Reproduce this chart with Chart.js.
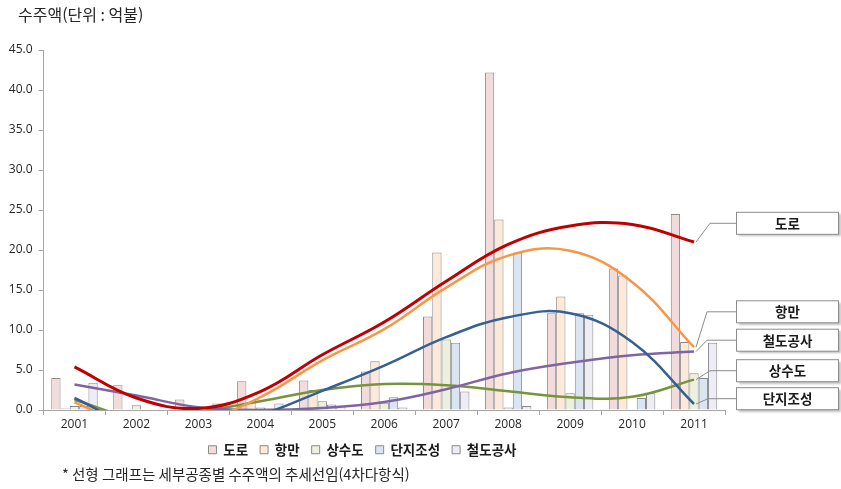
<!DOCTYPE html>
<html lang="ko">
<head>
<meta charset="UTF-8">
<title>공종별 수주액</title>
<script src="https://cdn.jsdelivr.net/npm/chart.js@4.4.1/dist/chart.umd.min.js"></script>
<style>
    html, body { margin: 0; padding: 0; background: #ffffff; }
    #wrap { width: 841px; height: 489px; position: relative; }
</style>
</head>
<body>
<div id="wrap"><canvas id="orderChart"></canvas></div>
<script>
// 연도 (카테고리)
const years = ["2001", "2002", "2003", "2004", "2005", "2006", "2007", "2008", "2009", "2010", "2011"];

// 공종별 수주액 (억불)
const roadValues  = [4.0, 3.1, 1.3, 3.6, 3.7, 4.8, 11.7, 42.2, 12.1, 17.7, 24.5];
const portValues  = [0.2, 0.1, 0.3, 1.0, 2.5, 6.1, 19.7, 23.8, 14.2, 16.8, 8.5];
const waterValues = [0.5, 0.6, 0.1, 0.3, 1.1, 0.9, 8.8, 0.3, 2.1, 0.1, 4.6];
const siteValues  = [0.5, 0.0, 0.0, 0.2, 0.7, 1.6, 8.4, 19.7, 12.1, 1.5, 4.0];
const railValues  = [3.4, 0.1, 0.8, 0.8, 0.5, 0.3, 2.3, 0.5, 11.9, 2.1, 8.4];

// 추세선 (4차다항식) - 그림에서 읽은 값, 0 아래는 잘려서 안 보임
const roadTrend  = [5.4, 1.5, 0.2, 2.3, 6.9, 11.0, 16.1, 20.7, 23.0, 23.2, 21.0];
const portTrend  = [0.95, -2.0, -1.4, 1.6, 6.2, 10.1, 15.3, 19.3, 19.9, 16.0, 7.85];
const waterTrend = [1.25, -0.9, -0.2, 1.1, 2.5, 3.25, 3.1, 2.35, 1.6, 1.65, 3.8];
const siteTrend  = [1.5, -2.0, -2.2, -0.6, 2.4, 5.55, 9.1, 11.6, 12.1, 8.5, 0.75];
const railTrend  = [3.2, 1.8, 0.35, 0.0, 0.25, 1.0, 2.6, 4.6, 5.9, 6.85, 7.3];

const seriesNames = ["도로", "항만", "상수도", "단지조성", "철도공사"];

const korFont = "'Noto Sans CJK KR', sans-serif";
const numFont = "'Open Sans', 'Noto Sans CJK KR', sans-serif";
const axisGray = "#a6a6a6";
const barBorder = "#8a8a8a";

// 오른쪽 라벨 상자 위치
const calloutLayout = [
    { label: "도로",     trend: roadTrend,  boxY: 223.3, elbowX: 710 },
    { label: "항만",     trend: portTrend,  boxY: 311.8, elbowX: 707 },
    { label: "철도공사", trend: railTrend,  boxY: 340.2, elbowX: 707 },
    { label: "상수도",   trend: waterTrend, boxY: 370.7, elbowX: 710 },
    { label: "단지조성", trend: siteTrend,  boxY: 398.7, elbowX: 708 }
];

function barSet(label, data, fill) {
    return {
        type: "bar",
        label: label,
        data: data,
        backgroundColor: fill,
        borderColor: barBorder,
        borderWidth: 1,
        categoryPercentage: 0.75,
        barPercentage: 1.0,
        order: 10
    };
}

function trendSet(label, data, color, width, order) {
    return {
        type: "line",
        label: label,
        data: data,
        borderColor: color,
        borderWidth: width,
        pointRadius: 0,
        tension: 0.4,
        fill: false,
        order: order
    };
}

// 제목, 주석, 라벨 상자 그리기
const decorPlugin = {
    id: "decor",
    afterDraw(chart) {
        const ctx = chart.ctx;
        const xScale = chart.scales.x;
        const yScale = chart.scales.y;
        const lastX = xScale.getPixelForValue(years.length - 1);

        ctx.save();
        ctx.fillStyle = "#262626";
        ctx.textBaseline = "middle";
        ctx.textAlign = "left";
        ctx.font = "16px " + korFont;
        ctx.fillText("수주액(단위 : 억불)", 18, 15);
        ctx.font = "14.5px " + korFont;
        ctx.fillText("* 선형 그래프는 세부공종별 수주액의 추세선임(4차다항식)", 62, 474);

        calloutLayout.forEach(item => {
            const endY = yScale.getPixelForValue(item.trend[item.trend.length - 1]);
            ctx.strokeStyle = "#8c8c8c";
            ctx.lineWidth = 1;
            ctx.beginPath();
            ctx.moveTo(lastX + 2, endY);
            ctx.lineTo(item.elbowX, item.boxY);
            ctx.lineTo(736.5, item.boxY);
            ctx.stroke();

            ctx.save();
            ctx.shadowColor = "rgba(0,0,0,0.25)";
            ctx.shadowOffsetX = 2;
            ctx.shadowOffsetY = 2;
            ctx.shadowBlur = 2;
            ctx.fillStyle = "#ffffff";
            ctx.fillRect(736.5, item.boxY - 11, 102, 22);
            ctx.restore();
            ctx.strokeStyle = "#8c8c8c";
            ctx.strokeRect(736.5, item.boxY - 11, 102, 22);

            ctx.fillStyle = "#1a1a1a";
            ctx.font = "bold 13.5px " + korFont;
            ctx.textAlign = "center";
            ctx.fillText(item.label, 736.5 + 51, item.boxY + 0.5);
            ctx.textAlign = "left";
        });
        ctx.restore();
    }
};

document.addEventListener("DOMContentLoaded", function () {
    const ctx = document.getElementById("orderChart").getContext("2d");

    new Chart(ctx, {
        data: {
            labels: years,
            datasets: [
                barSet(seriesNames[0], roadValues, "#f2dcdb"),
                barSet(seriesNames[1], portValues, "#fde9d9"),
                barSet(seriesNames[2], waterValues, "#ebf1de"),
                barSet(seriesNames[3], siteValues, "#dbe5f1"),
                barSet(seriesNames[4], railValues, "#eeecf4"),
                trendSet(seriesNames[0] + " 추세", roadTrend, "#c00000", 3, 1),
                trendSet(seriesNames[1] + " 추세", portTrend, "#f79646", 2.5, 2),
                trendSet(seriesNames[3] + " 추세", siteTrend, "#376092", 2.5, 3),
                trendSet(seriesNames[4] + " 추세", railTrend, "#8064a2", 2.5, 4),
                trendSet(seriesNames[2] + " 추세", waterTrend, "#77933c", 2.5, 5)
            ]
        },
        options: {
            responsive: true,
            maintainAspectRatio: false,
            animation: false,
            devicePixelRatio: 1,
            layout: {
                padding: { top: 50, right: 116, bottom: 22.5, left: 0 }
            },
            scales: {
                x: {
                    afterFit(scale) { scale.height = 21; },
                    grid: {
                        offset: true,
                        drawOnChartArea: false,
                        drawTicks: true,
                        tickLength: 5,
                        color: axisGray
                    },
                    border: { color: axisGray, width: 1 },
                    ticks: {
                        padding: 2,
                        color: "#262626",
                        font: { family: numFont, size: 12 }
                    }
                },
                y: {
                    min: 0,
                    max: 45,
                    afterFit(scale) { scale.width = 43.5; },
                    grid: {
                        drawOnChartArea: false,
                        drawTicks: true,
                        tickLength: 5,
                        color: axisGray
                    },
                    border: { color: axisGray, width: 1 },
                    ticks: {
                        stepSize: 5,
                        padding: 6,
                        color: "#262626",
                        font: { family: numFont, size: 12 },
                        callback: value => value.toFixed(1)
                    }
                }
            },
            plugins: {
                tooltip: { enabled: false },
                legend: {
                    position: "bottom",
                    labels: {
                        boxWidth: 8,
                        boxHeight: 8,
                        padding: 12,
                        color: "#1a1a1a",
                        font: { family: korFont, size: 13.5, weight: "bold" },
                        filter: item => item.datasetIndex < 5
                    }
                }
            }
        },
        plugins: [decorPlugin]
    });
});
</script>
</body>
</html>
